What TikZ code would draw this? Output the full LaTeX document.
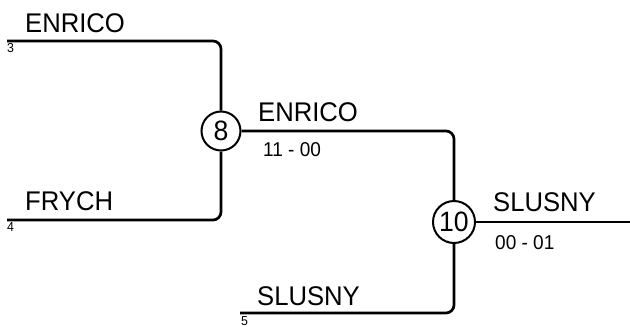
\documentclass[tikz,border=0pt]{standalone}
\usepackage{fontspec}
\setmainfont{Liberation Sans}[FakeStretch=0.95]
\begin{document}
\begin{tikzpicture}[x=1pt,y=-1pt,
  conn/.style={line width=2.7pt,rounded corners=8pt},
  playerlbl/.style={anchor=base west,inner sep=0pt,font=\fontsize{27}{27}\selectfont},
  scorelbl/.style={anchor=base west,inner sep=0pt,font=\fontsize{20}{20}\selectfont},
  seedlbl/.style={anchor=base west,inner sep=0pt,font=\fontsize{13}{13}\selectfont},
  matchcirc/.style={circle,draw,line width=2pt,inner sep=0pt,font=\fontsize{28}{28}\selectfont}]
\useasboundingbox (0,0) rectangle (630,327);
% match circles
\node[matchcirc,minimum size=39pt] (m8) at (221,131) {8};
\node[matchcirc,minimum size=42pt] (m10) at (454,222) {10};
% start / end points
\coordinate (s3) at (7,41);
\coordinate (s4) at (7,220);
\coordinate (s5) at (240,313);
\coordinate (e10) at (630,222);
% connectors
\draw[conn] (s3) -| (m8.north);
\draw[conn] (s4) -| (m8.south);
\draw[conn] (m8.east) -| (m10.north);
\draw[conn] (s5) -| (m10.south);
\draw[conn] (m10.east) -- (e10);
% labels
\node[playerlbl] (t1) at (25,32) {ENRICO};
\node[seedlbl] (k3) at (7,52) {3};
\node[playerlbl] (t2) at (25,210) {FRYCH};
\node[seedlbl] (k4) at (7,231) {4};
\node[playerlbl] (t3) at (258,121) {ENRICO};
\node[scorelbl] (r8) at (263,156) {11 - 00};
\node[playerlbl] (t4) at (493,211) {SLUSNY};
\node[scorelbl] (r10) at (495,249) {00 - 01};
\node[playerlbl] (t5) at (257,305) {SLUSNY};
\node[seedlbl] (k5) at (241,325) {5};
\end{tikzpicture}
\end{document}
